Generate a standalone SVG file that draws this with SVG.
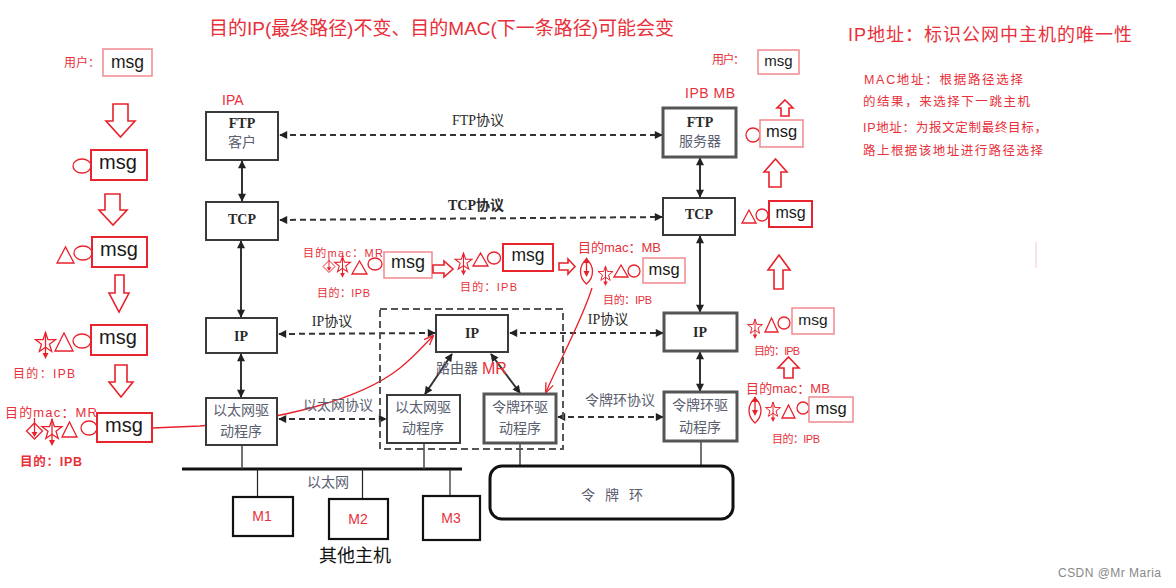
<svg xmlns="http://www.w3.org/2000/svg" width="1176" height="588" viewBox="0 0 1176 588">
<style>
.bg{fill:#fff}
.box{fill:#fff;stroke:#3a3a3a;stroke-width:2}
.boxr{fill:#fff;stroke:#555;stroke-width:3}
.lbl{font-family:"Liberation Serif","Noto Sans CJK SC",serif;fill:#2a2a2a;font-size:14px;text-anchor:middle}
.lblc{font-family:"Noto Sans CJK SC","Liberation Sans",sans-serif;fill:#5a6070;font-size:14px;text-anchor:middle}
.b{font-weight:bold}
.dash{stroke:#333;stroke-width:2;stroke-dasharray:6 4;fill:none;marker-start:url(#ah);marker-end:url(#ah)}
.solid{stroke:#333;stroke-width:2;fill:none;marker-start:url(#ah);marker-end:url(#ah)}
.thin{stroke:#222;stroke-width:1.2;fill:none}
.red{font-family:"Liberation Sans","Noto Sans CJK SC",sans-serif;fill:#e8303a}
.msgb{fill:#fff;stroke:#e8252f;stroke-width:2}
.msgl{fill:#fff;stroke:#f08a8f;stroke-width:1.5}
.msg{font-family:"Liberation Sans","Noto Sans",sans-serif;fill:#1a1a1a;text-anchor:middle}
.sym{fill:none;stroke:#e8212b;stroke-width:1.3}
.blk{fill:#fff;stroke:#e8212b;stroke-width:1.6}
.m{stroke:#111;stroke-width:2.2;fill:#fff}
.mt{font-family:"Liberation Sans","Noto Sans",sans-serif;fill:#e8303a;font-size:14px;text-anchor:middle}
</style>
<defs>
<marker id="ah" viewBox="0 0 10 10" refX="9" refY="5" markerWidth="9" markerHeight="8" markerUnits="userSpaceOnUse" orient="auto-start-reverse">
<path d="M0,0 L10,5 L0,10 z" fill="#222"/>
</marker>
<marker id="rah" viewBox="0 0 10 10" refX="9" refY="5" markerWidth="10" markerHeight="10" markerUnits="userSpaceOnUse" orient="auto">
<path d="M0,1 L10,5 L0,9" fill="none" stroke="#e8212b" stroke-width="1.3"/>
</marker>
<g id="star">
<polygon class="sym" points="0,-10.5 2.5,-3.4 10,-3.3 4,1.3 6.2,8.5 0,4.2 -6.2,8.5 -4,1.3 -10,-3.3 -2.5,-3.4"/>
<line class="sym" x1="0" y1="-11" x2="0" y2="13"/>
<polygon points="-3,10 0,16 3,10" fill="#e8212b"/>
</g>
<g id="diam">
<polygon class="sym" points="0,-6 8,2 0,10 -8,2"/>
<line class="sym" x1="0" y1="-11" x2="0" y2="5"/>
<polygon points="-3,3 0,8 3,3" fill="#e8212b"/>
</g>
<g id="leaf">
<path class="sym" d="M0,-12 C8,-5 8,6 0,13 C-8,6 -8,-5 0,-12 Z"/>
<line class="sym" x1="0" y1="-13" x2="0" y2="4"/>
<polygon points="-3,-8 0,-14 3,-8" fill="#e8212b"/>
<polygon points="-3,0 0,6 3,0" fill="#e8212b"/>
</g>
</defs>
<rect class="bg" x="0" y="0" width="1176" height="588"/>

<!-- title & notes -->
<text class="red" x="209" y="35" font-size="19" textLength="465">目的IP(最终路径)不变、目的MAC(下一条路径)可能会变</text>
<text class="red" x="848" y="41" font-size="18" textLength="284">IP地址：标识公网中主机的唯一性</text>
<text class="red" x="864" y="84" font-size="12.5" textLength="159">MAC地址：根据路径选择</text>
<text class="red" x="863" y="106" font-size="12.5" textLength="167">的结果，来选择下一跳主机</text>
<text class="red" x="863" y="132" font-size="12.5" textLength="184">IP地址：为报文定制最终目标，</text>
<text class="red" x="863" y="155" font-size="12.5" textLength="180">路上根据该地址进行路径选择</text>
<text class="red" x="222" y="105" font-size="14">IPA</text>
<text class="red" x="685" y="98" font-size="14" textLength="50">IPB MB</text>

<!-- connectors -->
<g id="connectors">
<line class="dash" x1="280" y1="135" x2="662" y2="135"/>
<line class="dash" x1="280" y1="220" x2="662" y2="217"/>
<line class="dash" x1="279" y1="334" x2="435" y2="333"/>
<line class="dash" x1="510" y1="333" x2="663" y2="333"/>
<line class="dash" x1="279" y1="419" x2="386" y2="419"/>
<line class="dash" x1="558" y1="417" x2="663" y2="417"/>
<line class="solid" x1="242" y1="161" x2="242" y2="201"/>
<line class="solid" x1="700" y1="158" x2="700" y2="197"/>
<line class="solid" x1="241" y1="241" x2="241" y2="317"/>
<line class="solid" x1="700" y1="236" x2="700" y2="312"/>
<line class="solid" x1="241" y1="354" x2="241" y2="397"/>
<line class="solid" x1="700" y1="352" x2="700" y2="391"/>
<line class="solid" x1="452" y1="354" x2="425" y2="394"/>
<line class="solid" x1="491" y1="354" x2="520" y2="393"/>
<!-- bus & drops -->
<line x1="182" y1="469" x2="462" y2="469" stroke="#111" stroke-width="3"/>
<line x1="242" y1="445" x2="242" y2="469" stroke="#444" stroke-width="1.5"/>
<line x1="424" y1="443" x2="424" y2="469" stroke="#444" stroke-width="1.5"/>
<line x1="520" y1="443" x2="520" y2="466" stroke="#444" stroke-width="1.5"/>
<line x1="701" y1="441" x2="701" y2="466" stroke="#444" stroke-width="1.5"/>
<line class="thin" x1="257.5" y1="469" x2="257.5" y2="497"/>
<line class="thin" x1="362.5" y1="469" x2="362.5" y2="499"/>
<line class="thin" x1="450" y1="469" x2="450" y2="496"/>
<!-- red annotation curves -->
<path d="M152,428 L200,426 C280,420 360,400 400,368 C415,356 424,345 433,336" fill="none" stroke="#e8212b" stroke-width="1.3" marker-end="url(#rah)"/>
<path d="M592,288 C582,320 560,360 546,392" fill="none" stroke="#e8212b" stroke-width="1.3" marker-end="url(#rah)"/>
</g>

<!-- router dashed box -->
<rect id="router" x="380" y="309" width="183" height="140" fill="none" stroke="#555" stroke-width="2" stroke-dasharray="7 4"/>

<g id="ftp-client"><rect class="box" x="206" y="112" width="72" height="48"/><text class="lbl b" x="242" y="128">FTP</text><text class="lblc" x="242" y="147">客户</text></g>
<g id="tcp-left"><rect class="box" x="206" y="202" width="72" height="38"/><text class="lbl b" x="242" y="224">TCP</text></g>
<g id="ip-left"><rect class="box" x="206" y="318" width="71" height="35"/><text class="lbl b" x="241" y="341">IP</text></g>
<g id="eth-left"><rect class="box" x="206" y="398" width="71" height="47"/><text class="lblc" x="241" y="415">以太网驱</text><text class="lblc" x="241" y="436">动程序</text></g>

<g id="ftp-server"><rect class="boxr" x="663" y="108" width="73" height="49"/><text class="lbl b" x="700" y="127">FTP</text><text class="lblc" x="700" y="146">服务器</text></g>
<g id="tcp-right"><rect class="box" x="663" y="198" width="72" height="37"/><text class="lbl b" x="699" y="219">TCP</text></g>
<g id="ip-right"><rect class="boxr" x="664" y="313" width="73" height="38"/><text class="lbl b" x="700" y="337">IP</text></g>
<g id="tr-right"><rect class="boxr" x="664" y="392" width="73" height="49"/><text class="lblc" x="700" y="410">令牌环驱</text><text class="lblc" x="700" y="432">动程序</text></g>

<g id="ip-router"><rect class="box" x="436" y="315" width="72" height="37"/><text class="lbl b" x="472" y="338">IP</text></g>
<g id="eth-router"><rect class="box" x="387" y="395" width="73" height="48"/><text class="lblc" x="423" y="412">以太网驱</text><text class="lblc" x="423" y="433">动程序</text></g>
<g id="tr-router"><rect class="boxr" x="484" y="394" width="72" height="49"/><text class="lblc" x="520" y="412">令牌环驱</text><text class="lblc" x="520" y="433">动程序</text></g>
<text class="lblc" x="457" y="373" font-size="15">路由器</text>
<text class="red" x="482" y="374" font-size="16">MR</text>

<!-- protocol labels -->
<text class="lbl" x="478" y="125">FTP协议</text>
<text class="lbl b" x="476" y="210">TCP协议</text>
<text class="lbl" x="332" y="326">IP协议</text>
<text class="lbl" x="608" y="324">IP协议</text>
<text class="lblc" x="338" y="410" font-size="13.5">以太网协议</text>
<text class="lblc" x="620" y="405" font-size="13.5">令牌环协议</text>
<text class="lblc" x="328" y="487" font-size="14" fill="#8090a0">以太网</text>

<g id="token-ring"><rect x="490" y="466" width="243" height="53" rx="12" fill="#fff" stroke="#111" stroke-width="3"/><text class="lblc" x="617" y="500" font-size="14" letter-spacing="10">令牌环</text></g>
<g id="m1"><rect class="m" x="233" y="497" width="60" height="39"/><text class="mt" x="262" y="521">M1</text></g>
<g id="m2"><rect class="m" x="329" y="499" width="59" height="40"/><text class="mt" x="358" y="524">M2</text></g>
<g id="m3"><rect class="m" x="423" y="496" width="57" height="44"/><text class="mt" x="451" y="523">M3</text></g>
<text x="355" y="562" font-family="Noto Sans CJK SC,sans-serif" font-size="18" fill="#111" text-anchor="middle">其他主机</text>

<!-- left column (sender) -->
<g id="left-col">
<text class="red" x="64" y="67" font-size="12" textLength="36">用户：</text>
<rect class="msgl" x="103" y="49" width="49" height="27"/><text class="msg" x="127.5" y="68" font-size="17.5">msg</text>
<path class="blk" d="M113,104 H128 V121 H135 L120.5,137 L106,121 H113 Z"/>
<ellipse class="sym" cx="82" cy="166" rx="9" ry="7"/>
<rect class="msgb" x="91" y="150" width="56" height="30"/><text class="msg" x="118" y="169" font-size="20">msg</text>
<path class="blk" d="M105,194 H120 V210 H127 L113,225 L99,210 H105 Z"/>
<polygon class="sym" points="57,263 65.5,247 74,263"/>
<ellipse class="sym" cx="83" cy="253" rx="9" ry="7"/>
<rect class="msgb" x="92" y="237" width="55" height="30"/><text class="msg" x="119" y="256" font-size="20">msg</text>
<path class="blk" d="M115,275 H124 V293 H129 L119,312 L109,293 H115 Z"/>
<use href="#star" transform="translate(45.5,343)"/>
<polygon class="sym" points="55,351 64,333 73,351"/>
<ellipse class="sym" cx="82" cy="341" rx="9" ry="7"/>
<rect class="msgb" x="91" y="325" width="56" height="30"/><text class="msg" x="118" y="344" font-size="20">msg</text>
<text class="red" x="13" y="378" font-size="12" textLength="62">目的：IPB</text>
<path class="blk" d="M115,365 H127 V382 H133 L121,397 L109,382 H115 Z"/>
<text class="red" x="5" y="417" font-size="13" textLength="92">目的mac：MR</text>
<use href="#diam" transform="translate(34.5,429)"/>
<use href="#star" transform="translate(52,430)"/>
<polygon class="sym" points="62,437 69.5,422 77,437"/>
<ellipse class="sym" cx="89" cy="428" rx="8" ry="7"/>
<rect class="msgb" x="97" y="413" width="55" height="29"/><text class="msg" x="124" y="432" font-size="20">msg</text>
<text class="red" x="20" y="466" font-size="12.5" font-weight="bold" textLength="62">目的：IPB</text>
</g>

<!-- centre (router path) -->
<g id="mid-col">
<text class="red" x="303" y="257" font-size="11" textLength="80">目的mac：MR</text>
<use href="#diam" transform="translate(329,265) scale(0.75)"/>
<use href="#star" transform="translate(342.5,265) scale(0.8)"/>
<polygon class="sym" points="352,274 359.5,261 367,274"/>
<ellipse class="sym" cx="375" cy="264" rx="7" ry="6"/>
<rect class="msgl" x="384" y="252" width="48" height="26"/><text class="msg" x="408" y="268" font-size="18">msg</text>
<text class="red" x="317" y="297" font-size="11" textLength="53">目的：IPB</text>
<path class="blk" d="M433,265 H444 V261 L453,269 L444,277 V273 H433 Z"/>
<use href="#star" transform="translate(463.5,262) scale(0.85)"/>
<polygon class="sym" points="473,266 480.5,253 488,266"/>
<ellipse class="sym" cx="494" cy="258" rx="6.5" ry="6"/>
<rect class="msgb" x="503" y="244" width="50" height="27"/><text class="msg" x="528" y="261" font-size="17.5">msg</text>
<text class="red" x="460" y="291" font-size="11" textLength="57">目的：IPB</text>
<path class="blk" d="M559,263 H568 V259 L575,266.5 L568,274 V270 H559 Z"/>
<text class="red" x="578" y="252" font-size="13" textLength="83">目的mac：MB</text>
<use href="#leaf" transform="translate(586.5,271)"/>
<use href="#star" transform="translate(605.5,274) scale(0.75)"/>
<polygon class="sym" points="614,277 621,265 628,277"/>
<ellipse class="sym" cx="634" cy="271" rx="6" ry="6"/>
<rect class="msgl" x="643" y="258" width="42" height="25"/><text class="msg" x="664" y="275" font-size="16.5">msg</text>
<text class="red" x="603" y="304" font-size="11" textLength="49">目的：IPB</text>
</g>

<!-- right column (receiver) -->
<g id="right-col">
<text class="red" x="712" y="64" font-size="12" textLength="33">用户：</text>
<rect class="msgl" x="758" y="50" width="41" height="24"/><text class="msg" x="778.5" y="66" font-size="15">msg</text>
<path class="blk" d="M785,100 L793,108 H789 V116 H781 V108 H777 Z"/>
<ellipse class="sym" cx="753" cy="135" rx="7" ry="7"/>
<rect class="msgl" x="760" y="120" width="43" height="27"/><text class="msg" x="781.5" y="137" font-size="16.5">msg</text>
<path class="blk" d="M775.5,159 L787,172 H781 V187 H769 V172 H764 Z"/>
<polygon class="sym" points="742,223 749,210 756,223" stroke="#f08a8f"/>
<ellipse class="sym" cx="762" cy="215" rx="6" ry="6"/>
<rect class="msgb" x="769" y="201" width="43" height="26"/><text class="msg" x="790.5" y="218" font-size="16">msg</text>
<path class="blk" d="M779,255 L790,270 H783 V289 H774 V270 H768 Z"/>
<use href="#star" transform="translate(755,327) scale(0.75)"/>
<polygon class="sym" points="765,332 771.5,318 778,332"/>
<ellipse class="sym" cx="784" cy="323" rx="6" ry="6"/>
<rect class="msgl" x="792" y="308" width="42" height="26"/><text class="msg" x="813" y="325" font-size="15.5">msg</text>
<text class="red" x="754" y="355" font-size="11" textLength="46">目的：IPB</text>
<path class="blk" d="M788.5,357 L799,368 H793 V378 H784 V368 H778 Z"/>
<text class="red" x="746" y="393" font-size="13" textLength="84">目的mac：MB</text>
<use href="#leaf" transform="translate(755,410)"/>
<use href="#star" transform="translate(773,410) scale(0.75)"/>
<polygon class="sym" points="782,418 788.5,405 795,418"/>
<ellipse class="sym" cx="803" cy="408" rx="6" ry="6"/>
<rect class="msgl" x="809" y="397" width="44" height="25"/><text class="msg" x="831" y="414" font-size="16.5">msg</text>
<text class="red" x="772" y="443" font-size="11" textLength="48">目的：IPB</text>
</g>

<line x1="1036" y1="242" x2="1036" y2="268" stroke="#f6c8ca" stroke-width="1"/>
<text x="1058" y="577" font-family="Liberation Sans,sans-serif" font-size="12" fill="#888" textLength="103">CSDN @Mr Maria</text>
</svg>
